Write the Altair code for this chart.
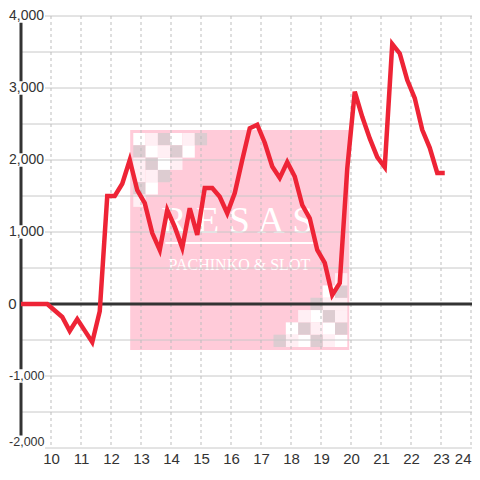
import altair as alt
import pandas as pd

# ---- data ----
quarters = [9.0, 9.125, 9.375, 9.625, 9.875, 10.125, 10.375, 10.625, 10.875, 11.125,
            11.375, 11.625, 11.875, 12.125, 12.375, 12.625, 12.875, 13.125, 13.375, 13.625,
            13.875, 14.125, 14.375, 14.625, 14.875, 15.125, 15.375, 15.625, 15.875, 16.125,
            16.375, 16.625, 16.875, 17.125, 17.375, 17.625, 17.875, 18.125, 18.375, 18.625,
            18.875, 19.125, 19.375, 19.625, 19.875, 20.125, 20.375, 20.625, 20.875, 21.125,
            21.375, 21.625, 21.875, 22.125, 22.375, 22.625, 22.875, 23.125]
values = [0, 0, 0, 0, 0, -90, -180, -375, -210, -370,
          -530, -100, 1500, 1500, 1670, 2000, 1580, 1400, 985, 750,
          1305, 1070, 780, 1330, 960, 1610, 1610, 1490, 1260, 1540,
          2000, 2440, 2490, 2240, 1910, 1750, 1970, 1770, 1375, 1190,
          750, 570, 125, 290, 1880, 2950, 2600, 2300, 2040, 1900,
          3610, 3480, 3110, 2860, 2420, 2170, 1820, 1820]

x_ticks = [10, 11, 12, 13, 14, 15, 16, 17, 18, 19, 20, 21, 22, 23, 24]
y_ticks = [-2000, -1000, 0, 1000, 2000, 3000, 4000]
y_labels = ["-2,000", "-1,000", "0", "1,000", "2,000", "3,000", "4,000"]
y_grid = [-2000, -1500, -1000, -500, 0, 500, 1000, 1500, 2000, 2500, 3000, 3500, 4000]

# watermark (decoration)
wm_box = {"x": 12.64, "x2": 19.94, "y": 2417, "y2": -639}
wm_pattern = ["WLGWLG", "GWLGW", "LGWL", "LLG", "GW", "L"]
wm_colors = {"W": "#FFFFFF", "L": "#FFEFF4", "G": "#DDCCD1"}
cell_x, cell_y = 0.41, 171

W, H = 451, 432
X_DOM = [9.0, 9.0 + W / 30]
Y_DOM = [-2000, 4000]

xs = alt.Scale(domain=X_DOM, nice=False, zero=False)
ys = alt.Scale(domain=Y_DOM, nice=False, zero=False)
FONT = "Liberation Sans"
XAX = alt.Axis(values=x_ticks, grid=False, domain=False, ticks=False,
               labelFontSize=15, labelColor="#333333", labelFont=FONT,
               labelPadding=3, title=None, labelFlush=3)

line_df = pd.DataFrame({"q": quarters, "v": values})

sq = []
for r, row in enumerate(wm_pattern):
    for c, ch in enumerate(row):
        x0 = 12.743 + c * cell_x
        y0 = 2375 - r * cell_y
        sq.append({"x": x0, "x2": x0 + cell_x, "y": y0, "y2": y0 - cell_y, "col": wm_colors[ch]})
        x1 = 19.877 - c * cell_x
        y1 = -597 + r * cell_y
        sq.append({"x": x1 - cell_x, "x2": x1, "y": y1 + cell_y, "y2": y1, "col": wm_colors[ch]})
sq_df = pd.DataFrame(sq)

box = alt.Chart(pd.DataFrame([wm_box])).mark_rect(color="#FFCBD9").encode(
    x=alt.X("x:Q", scale=xs, axis=XAX), x2="x2:Q",
    y=alt.Y("y:Q", scale=ys, axis=None), y2="y2:Q")

squares = alt.Chart(sq_df).mark_rect().encode(
    x=alt.X("x:Q", scale=xs, axis=XAX), x2="x2:Q",
    y=alt.Y("y:Q", scale=ys, axis=None), y2="y2:Q",
    color=alt.Color("col:N", scale=None))

wm_text = alt.Chart(pd.DataFrame({
    "x": [16.21, 16.28], "y": [986, 472],
    "t": ["R E S A S", "PACHINKO & SLOT"], "s": [38, 16]})).mark_text(
    font="Liberation Serif", color="white", baseline="alphabetic", align="center").encode(
    x=alt.X("x:Q", scale=xs, axis=XAX), y=alt.Y("y:Q", scale=ys, axis=None),
    text="t:N", size=alt.Size("s:Q", scale=None))

wm_rule = alt.Chart(pd.DataFrame({"x": [13.81], "x2": [18.81], "y": [847]})).mark_rule(
    color="white", strokeWidth=2).encode(
    x=alt.X("x:Q", scale=xs, axis=XAX), x2="x2:Q", y=alt.Y("y:Q", scale=ys, axis=None))

hgrid = alt.Chart(pd.DataFrame({"v": y_grid})).mark_rule(color="#C8C8C8", strokeWidth=1).encode(
    y=alt.Y("v:Q", scale=ys, axis=None), x=alt.value(0), x2=alt.value(W))

vgrid = alt.Chart(pd.DataFrame({"q": x_ticks})).mark_rule(
    color="#BDBDBD", strokeWidth=1, strokeDash=[3, 3]).encode(
    x=alt.X("q:Q", scale=xs, axis=XAX),
    y=alt.value(0), y2=alt.value(H))

zero = alt.Chart(pd.DataFrame({"v": [0]})).mark_rule(color="#333333", strokeWidth=3).encode(
    y=alt.Y("v:Q", scale=ys, axis=None), x=alt.value(0), x2=alt.value(W))

ax_df = pd.DataFrame({"a": y_ticks[:-1], "b": y_ticks[1:]})
axis_line = alt.Chart(ax_df).mark_rule(color="#333333", strokeWidth=3).encode(
    y=alt.Y("a:Q", scale=ys, axis=None), y2="b:Q", x=alt.value(0))

lab_df = pd.DataFrame({"v": y_ticks, "t": y_labels})
pos_expr = "datum.v == -2000 ? -1920 : datum.v"

lab_bg = alt.Chart(lab_df).transform_filter("datum.v != 0").transform_calculate(
    p=pos_expr).transform_calculate(
    lo="datum.p - 95", hi="datum.p + 95").mark_rect(color="white").encode(
    y=alt.Y("lo:Q", scale=ys, axis=None), y2="hi:Q",
    x=alt.value(-13), x2=alt.value(24))

labels_pos = alt.Chart(lab_df).transform_filter("datum.v > 0").mark_text(
    align="right", baseline="middle", fontSize=14, font=FONT, color="#333333").encode(
    y=alt.Y("v:Q", scale=ys, axis=None), x=alt.value(23), text="t:N")

labels_neg = alt.Chart(lab_df).transform_filter("datum.v < 0").transform_calculate(
    p=pos_expr).mark_text(
    align="right", baseline="middle", fontSize=12.5, font=FONT, color="#333333").encode(
    y=alt.Y("p:Q", scale=ys, axis=None), x=alt.value(23.5), text="t:N")

label0 = alt.Chart(lab_df).transform_filter("datum.v == 0").mark_text(
    align="right", baseline="middle", fontSize=15, font=FONT, color="#333333").encode(
    y=alt.Y("v:Q", scale=ys, axis=None), x=alt.value(-4.5), text="t:N")

line = alt.Chart(line_df).mark_line(color="#EE2436", strokeWidth=4.5, strokeJoin="miter").encode(
    x=alt.X("q:Q", scale=xs, axis=XAX), y=alt.Y("v:Q", scale=ys, axis=None))

chart = alt.layer(
    box, squares, wm_text, wm_rule, hgrid, vgrid, zero, axis_line,
    lab_bg, labels_pos, labels_neg, label0, line
).properties(
    width=W, height=H,
    autosize=alt.AutoSizeParams(type="none"),
    padding={"left": 13, "top": 8, "right": 0, "bottom": 24},
    background="white"
).configure_view(stroke=None)

chart.save("out.html", embed_options={"renderer": "svg", "actions": False})
